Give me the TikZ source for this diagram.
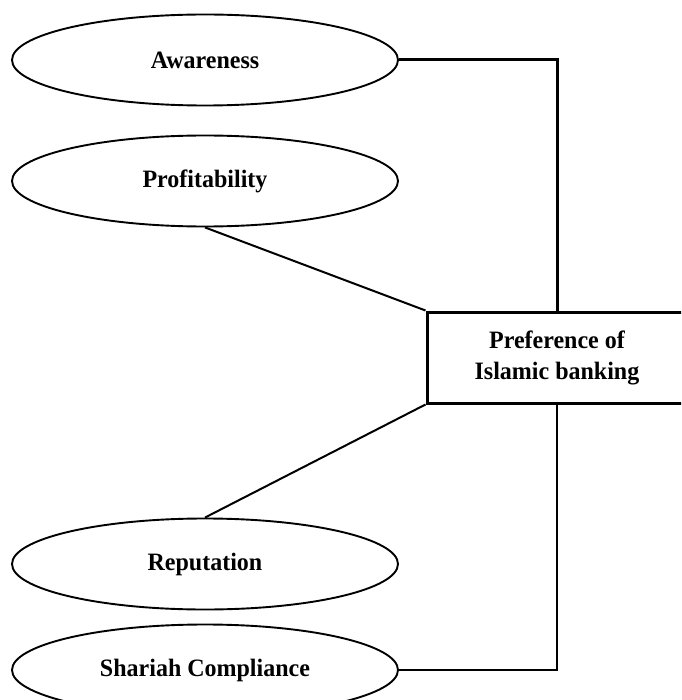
\documentclass[tikz,border=0pt]{standalone}
\usepackage{fontspec}
\setmainfont{Liberation Serif}
\newfontfamily\labelfont[FakeStretch=0.96]{Liberation Serif}
\usetikzlibrary{shapes.geometric}

\tikzset{
    factor/.style={draw, line width=1.9pt, ellipse, minimum width=386pt, minimum height=91pt, inner sep=0pt, font=\labelfont\fontsize{25}{29}\selectfont\bfseries},
    outcome/.style={draw, line width=3pt, rectangle, minimum width=260pt, minimum height=91pt, align=center, font=\labelfont\fontsize{25}{31}\selectfont\bfseries},
    link/.style={line width=2pt}
}

\begin{document}
\begin{tikzpicture}[x=1pt,y=-1pt]
            \useasboundingbox (0,0) rectangle (681,700);
            \clip (0,0) rectangle (681,700);
            \node[factor] (aware) at (205,60) {Awareness};
            \node[factor] (prof) at (205,181) {Profitability};
            \node[outcome] (pref) at (557,357.5) {Preference of\\Islamic banking};
            \node[factor] (rep) at (205,564) {Reputation};
            \node[factor] (shar) at (205,670) {Shariah Compliance};
            \draw[link, line width=3pt] (aware.east) -| (pref.north);
            \draw[link] (prof.south) -- (pref.north west);
            \draw[link] (rep.north) -- (pref.south west);
            \draw[link, line width=1.6pt] (pref.south) |- (shar.east);
        \end{tikzpicture}
\end{document}
